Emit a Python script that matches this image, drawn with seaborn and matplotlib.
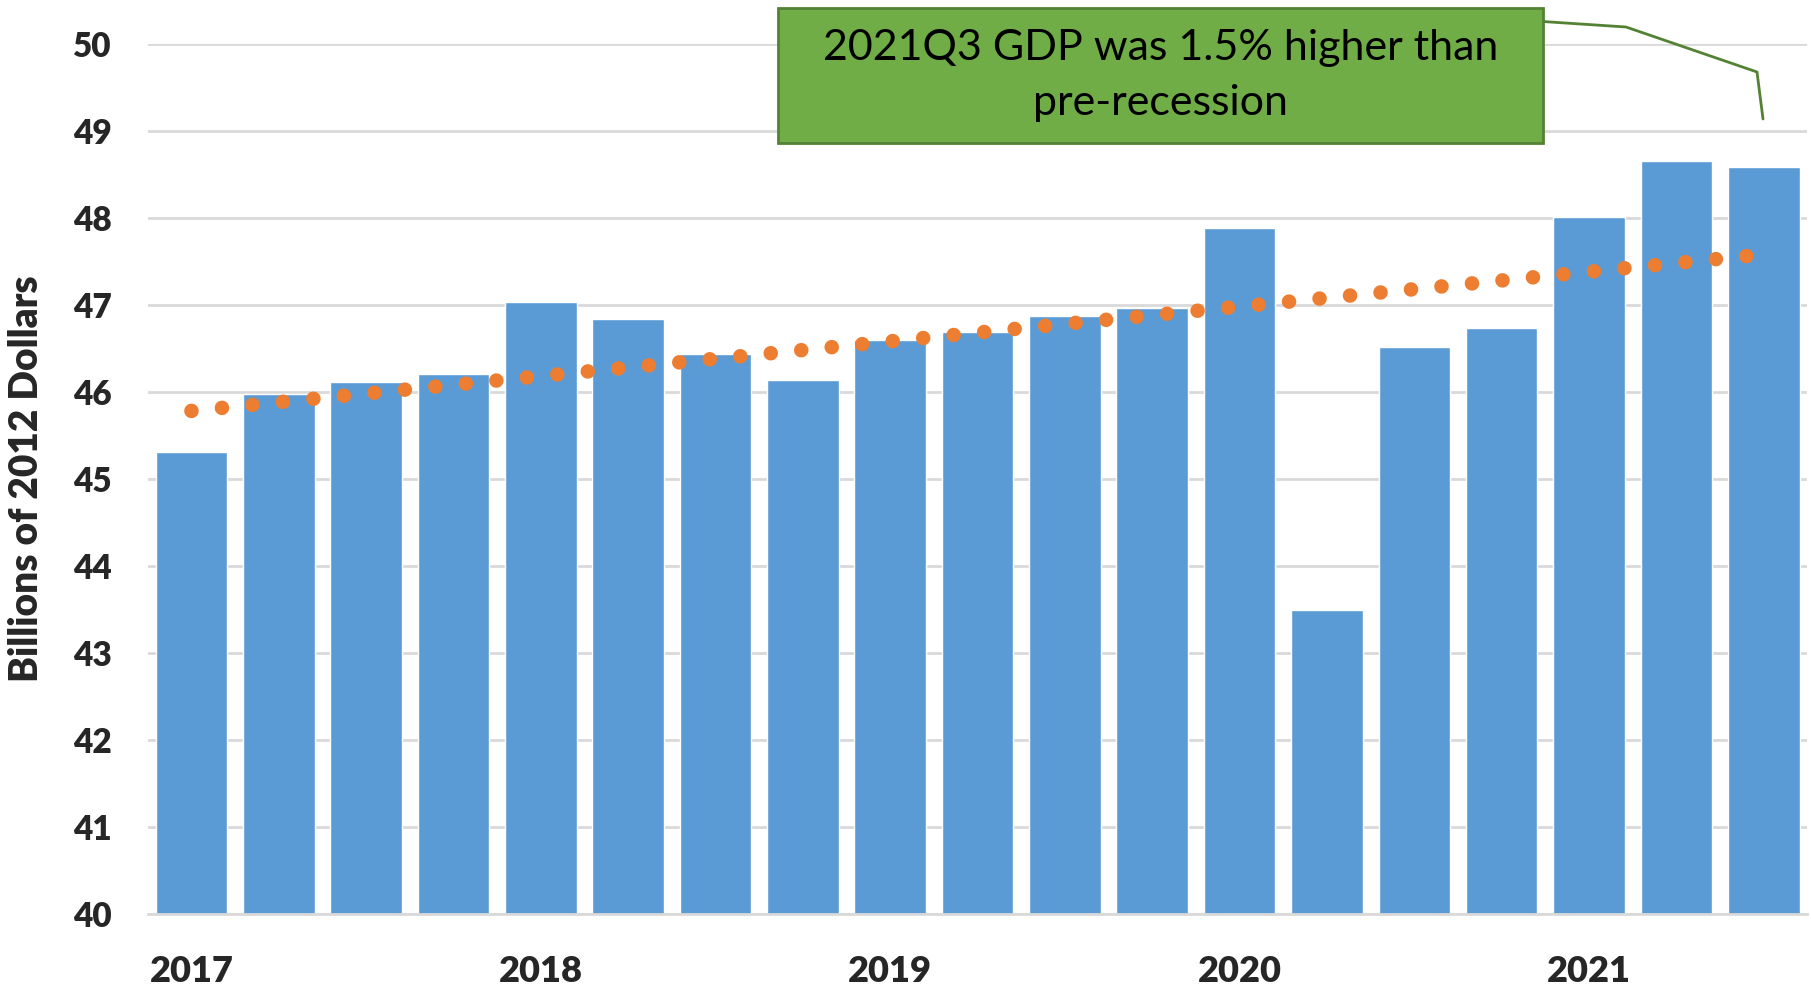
import numpy as np
import pandas as pd
import matplotlib
matplotlib.use("Agg")
import matplotlib.pyplot as plt
import matplotlib.patches as mpatches
import matplotlib.lines as mlines
import seaborn as sns

# =============================================================================
# DATA
# =============================================================================
quarters = ['2017Q1', '2017Q2', '2017Q3', '2017Q4',
            '2018Q1', '2018Q2', '2018Q3', '2018Q4',
            '2019Q1', '2019Q2', '2019Q3', '2019Q4',
            '2020Q1', '2020Q2', '2020Q3', '2020Q4',
            '2021Q1', '2021Q2', '2021Q3']
gdp = [45.31, 45.98, 46.11, 46.21,
       47.03, 46.84, 46.44, 46.14,
       46.59, 46.69, 46.87, 46.96,
       47.88, 43.49, 46.52, 46.73,
       48.01, 48.65, 48.58]
# pre-recession trend
trend = [45.78, 45.88, 45.98, 46.08,
         46.18, 46.28, 46.38, 46.48,
         46.58, 46.68, 46.78, 46.88,
         46.98, 47.08, 47.18, 47.28,
         47.38, 47.48, 47.58]
year_labels = ['2017', '', '', '', '2018', '', '', '', '2019', '', '', '',
               '2020', '', '', '', '2021', '', '']

df = pd.DataFrame({'quarter': quarters, 'gdp': gdp, 'trend': trend})

# =============================================================================
# STYLE
# =============================================================================
sns.set_style("white")
plt.rcParams['font.family'] = ['Lato', 'DejaVu Sans']

fig = plt.figure(figsize=(18.11, 9.86), dpi=100)
ax = fig.add_axes([0.0816, 0.0734, 0.9164, 0.8821])

# =============================================================================
# BARS + TREND
# =============================================================================
sns.barplot(x='quarter', y='gdp', data=df, color='#5B9BD5', saturation=1,
            width=0.82, ax=ax, zorder=2)
ax.plot(np.arange(len(trend)), df['trend'], color='#ED7D31', linewidth=10.5,
        linestyle=(0, (0.001, 2.1)), dash_capstyle='round', zorder=3)

ax.set_ylim(40, 50)
ax.set_xlim(-0.5, len(quarters) - 0.5)
ax.set_yticks(range(40, 51))
ax.yaxis.grid(True, color='#D9D9D9', linewidth=2, zorder=0)
ax.set_axisbelow(True)
for s in ['top', 'right', 'left']:
    ax.spines[s].set_visible(False)
ax.spines['bottom'].set_color('#D9D9D9')
ax.spines['bottom'].set_linewidth(2)

ax.set_xticks(range(len(quarters)))
ax.set_xticklabels(year_labels, fontsize=26, fontweight='heavy')
ax.tick_params(axis='x', length=0, pad=30)
ax.tick_params(axis='y', length=0, pad=26, labelsize=24)
for t in ax.get_yticklabels():
    t.set_fontweight('heavy')

ax.set_xlabel('')
ax.set_ylabel('Billions of 2012 Dollars', fontsize=28, fontweight='heavy')
ax.yaxis.set_label_coords(-0.062, 0.5)

# =============================================================================
# CALLOUT
# =============================================================================
box = mpatches.Rectangle((0.4296, 0.855), 0.4224, 0.1369,
                         transform=fig.transFigure, facecolor='#70AD47',
                         edgecolor='#548235', linewidth=2, zorder=5)
fig.patches.append(box)
fig.text(0.6407, 0.9234, '2021Q3 GDP was 1.5% higher than\npre-recession',
         ha='center', va='center', fontsize=31, linespacing=1.55,
         color='black', zorder=6)

px = np.array([1535, 1626, 1757, 1763]) / 1811
py = 1 - np.array([21, 27, 72, 119]) / 986
fig.lines.append(mlines.Line2D(px, py, transform=fig.transFigure,
                               color='#548235', linewidth=2))

plt.savefig('out.png', dpi=100)
